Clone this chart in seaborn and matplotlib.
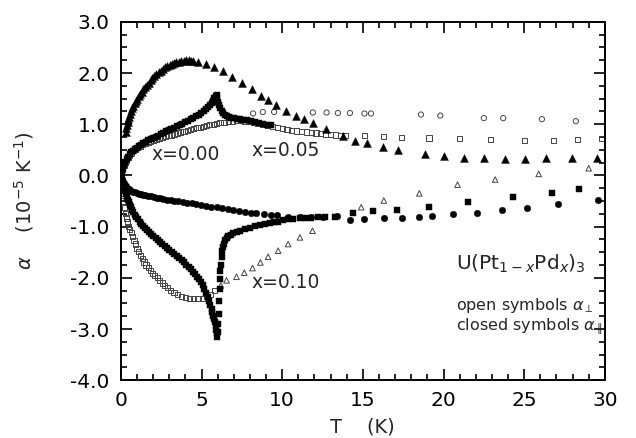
import numpy as np
import pandas as pd
import matplotlib
matplotlib.use("Agg")
import matplotlib.pyplot as plt
from matplotlib.ticker import MultipleLocator, FormatStrFormatter
import seaborn as sns

# ---------------- data ----------------
# closed triangles (upper curve, peak ~2.25 near 4 K)
triA_T = [0.30,0.34,0.38,0.42,0.47,0.52,0.58,0.64,0.71,0.78,0.86,0.94,1.02,1.11,1.20,1.30,1.40,1.50,
          1.61,1.72,1.84,1.96,2.08,2.21,2.34,2.47,2.60,2.74,2.88,3.02,3.16,3.30,3.45,3.60,3.75,3.90,
          4.05,4.20,4.35,4.50,4.80,5.30,5.80,6.34,6.90,7.50,8.16,8.66,9.13,9.61,10.23,10.85,11.35,
          11.88,12.71,13.74,14.50,15.27,16.26,17.20,18.85,20.00,21.30,22.50,23.80,25.05,26.35,27.98,29.50]
triA_a = [0.85,0.92,0.98,1.04,1.10,1.15,1.21,1.26,1.31,1.36,1.41,1.45,1.50,1.55,1.59,1.63,1.68,1.72,
          1.76,1.81,1.86,1.90,1.94,1.98,2.02,2.05,2.08,2.11,2.13,2.15,2.17,2.19,2.21,2.22,2.23,2.24,
          2.25,2.25,2.24,2.24,2.22,2.17,2.12,2.05,1.93,1.80,1.68,1.55,1.47,1.37,1.26,1.17,1.11,
          1.02,0.90,0.78,0.68,0.64,0.55,0.49,0.41,0.38,0.35,0.34,0.33,0.33,0.34,0.34,0.35]

# closed squares, positive branch with sharp peak at ~5.9 K
sqB_T = [0.05,0.12,0.20,0.28,0.36,0.45,0.55,0.65,0.76,0.88,1.00,1.13,1.26,1.40,1.55,1.70,1.85,2.00,
         2.16,2.32,2.48,2.64,2.80,2.97,3.14,3.31,3.48,3.65,3.82,3.99,4.16,4.33,4.50,4.66,4.82,4.98,
         5.13,5.27,5.40,5.52,5.62,5.72,5.80,5.87,5.93,5.98,6.03,6.09,6.16,6.24,6.33,6.43,6.55,6.70,
         6.85,7.00,7.20,7.40,7.60,7.80,8.05,8.30,8.55,8.80,9.05,9.30]
sqB_a = [0.05,0.13,0.20,0.26,0.32,0.37,0.41,0.45,0.48,0.51,0.54,0.57,0.60,0.63,0.66,0.69,0.71,0.73,
         0.76,0.78,0.81,0.83,0.86,0.88,0.91,0.93,0.96,0.99,1.01,1.04,1.07,1.10,1.13,1.16,1.19,1.22,
         1.25,1.29,1.33,1.37,1.41,1.46,1.51,1.55,1.57,1.52,1.44,1.37,1.31,1.26,1.22,1.19,1.16,1.14,
         1.13,1.12,1.11,1.10,1.09,1.08,1.06,1.04,1.02,1.00,0.99,0.98]

# open squares, positive branch rising to ~1.07
opC_T = [0.05,0.12,0.20,0.28,0.36,0.45,0.55,0.66,0.78,0.91,1.05,1.20,1.36,1.52,1.68,1.85,2.02,2.20,
         2.38,2.56,2.75,2.94,3.13,3.32,3.52,3.72,3.92,4.12,4.32,4.52,4.72,4.92,5.12,5.32,5.52,5.72,
         5.92,6.15,6.40,6.65,6.90,7.15,7.40,7.65,7.90,8.20,8.50,8.80,9.10,9.40,9.70,10.00,10.30,
         10.60,10.90,11.20,11.50,11.80,12.10,12.40,12.70,13.00,13.30,13.60,13.90,
         15.1,16.3,17.4,19.1,21.0,22.9,25.0,26.8,28.3,29.8]
opC_a = [0.04,0.12,0.19,0.25,0.30,0.35,0.40,0.44,0.48,0.51,0.54,0.57,0.60,0.62,0.64,0.66,0.68,0.70,
         0.72,0.74,0.76,0.78,0.79,0.81,0.83,0.85,0.86,0.88,0.90,0.91,0.93,0.94,0.96,0.97,0.99,1.00,
         1.02,1.03,1.04,1.05,1.06,1.07,1.07,1.06,1.05,1.03,1.01,0.99,0.97,0.95,0.93,0.91,0.90,
         0.88,0.87,0.86,0.85,0.84,0.83,0.82,0.81,0.80,0.79,0.78,0.78,
         0.78,0.76,0.74,0.73,0.72,0.70,0.68,0.68,0.70,0.72]

# open circles, sparse upper row
opG_T = [8.2,8.8,9.5,11.9,12.75,13.45,14.2,15.1,15.5,18.6,19.8,22.5,23.7,26.1,28.2]
opG_a = [1.21,1.24,1.24,1.23,1.23,1.22,1.22,1.21,1.21,1.19,1.17,1.12,1.12,1.10,1.06]

# closed circles, shallow negative curve
ciD_T = [0.02,0.06,0.10,0.15,0.20,0.26,0.33,0.40,0.48,0.57,0.66,0.76,0.87,0.98,1.10,1.23,1.37,1.52,
         1.68,1.85,2.03,2.22,2.42,2.63,2.85,3.08,3.32,3.57,3.83,4.10,4.38,4.67,4.97,5.28,5.60,5.93,
         6.27,6.62,6.97,7.33,7.70,8.05,8.40,8.90,9.30,9.65,10.37,11.1,11.8,12.5,13.4,14.2,15.1,16.3,
         17.4,18.5,19.3,20.6,22.05,23.6,25.2,27.1,29.6]
ciD_a = [-0.02,-0.06,-0.09,-0.12,-0.15,-0.18,-0.21,-0.24,-0.26,-0.28,-0.30,-0.32,-0.33,-0.35,-0.36,
         -0.37,-0.38,-0.39,-0.40,-0.41,-0.42,-0.44,-0.45,-0.46,-0.47,-0.48,-0.49,-0.50,-0.51,-0.53,
         -0.54,-0.56,-0.57,-0.59,-0.61,-0.62,-0.64,-0.66,-0.68,-0.70,-0.72,-0.73,-0.74,-0.76,-0.77,
         -0.78,-0.82,-0.82,-0.82,-0.82,-0.80,-0.87,-0.85,-0.83,-0.83,-0.82,-0.80,-0.76,-0.73,-0.68,
         -0.64,-0.55,-0.47]

# closed squares, negative branch down to -3.15 at ~6 K, then jump back
sqE_T = [0.28,0.32,0.37,0.42,0.48,0.55,0.62,0.70,0.78,0.87,0.96,1.06,1.16,1.27,1.38,1.50,1.62,1.75,
         1.88,2.01,2.15,2.29,2.43,2.57,2.71,2.86,3.01,3.16,3.31,3.46,3.61,3.76,3.91,4.06,4.20,4.34,
         4.47,4.60,4.72,4.84,4.96,5.07,5.18,5.28,5.38,5.47,5.55,5.62,5.68,5.74,5.79,5.83,5.87,5.91,
         5.94,5.97,
         6.02,6.05,6.08,6.10,6.12,6.14,6.17,6.20,6.24,6.28,6.33,6.40,6.48,6.57,6.67,6.80,6.96,7.17,
         7.38,7.70,8.00,8.30,8.62,8.93,9.24,9.50,9.75,10.05,10.37,10.70,11.10,11.40,11.76,12.20,
         12.65,13.30,14.40,15.60,17.10,19.10,21.50,24.30,26.70,28.40]
sqE_a = [-0.30,-0.36,-0.42,-0.47,-0.52,-0.57,-0.62,-0.67,-0.72,-0.77,-0.81,-0.86,-0.90,-0.94,-0.98,
         -1.02,-1.06,-1.10,-1.14,-1.18,-1.22,-1.26,-1.30,-1.34,-1.38,-1.42,-1.46,-1.50,-1.54,-1.58,
         -1.62,-1.66,-1.70,-1.75,-1.79,-1.83,-1.88,-1.93,-1.98,-2.03,-2.09,-2.15,-2.22,-2.29,-2.37,
         -2.45,-2.53,-2.60,-2.67,-2.74,-2.81,-2.87,-2.94,-3.01,-3.08,-3.15,
         -3.05,-2.90,-2.71,-2.45,-2.22,-2.02,-1.86,-1.74,-1.60,-1.48,-1.40,-1.33,-1.27,-1.23,-1.19,
         -1.16,-1.13,-1.10,-1.08,-1.05,-1.02,-0.99,-0.96,-0.94,-0.93,-0.91,-0.90,-0.88,-0.86,-0.85,
         -0.84,-0.84,-0.83,-0.82,-0.82,-0.81,-0.74,-0.70,-0.67,-0.61,-0.52,-0.43,-0.34,-0.27]

# open squares / triangles, negative branch with minimum ~ -2.4
opF_T = [0.12,0.18,0.24,0.30,0.36,0.42,0.49,0.56,0.64,0.72,0.81,0.90,1.00,1.10,1.21,1.32,1.44,1.56,
         1.69,1.82,1.96,2.10,2.25,2.40,2.56,2.72,2.90,3.10,3.30,3.52,3.75,4.00,4.25,4.50,4.78,5.05,
         5.31,5.58,5.83]
opF_a = [-0.35,-0.50,-0.63,-0.74,-0.83,-0.91,-0.99,-1.06,-1.12,-1.19,-1.27,-1.34,-1.42,-1.49,-1.56,
         -1.62,-1.69,-1.75,-1.80,-1.86,-1.91,-1.95,-2.00,-2.05,-2.10,-2.15,-2.19,-2.24,-2.28,-2.32,
         -2.36,-2.38,-2.40,-2.41,-2.41,-2.40,-2.37,-2.32,-2.25]
opTri_T = [6.20,6.55,7.17,7.65,8.16,8.65,9.13,9.75,10.37,11.10,11.88,14.90,16.30,18.50,20.87,23.20,25.90,29.00]
opTri_a = [-2.15,-2.05,-1.98,-1.90,-1.81,-1.70,-1.59,-1.47,-1.34,-1.21,-1.08,-0.62,-0.49,-0.35,-0.18,-0.08,0.03,0.14]

# text
x_ticks = [0, 5, 10, 15, 20, 25, 30]
y_ticks = [-4, -3, -2, -1, 0, 1, 2, 3]
curve_labels = ["x=0.00", "x=0.05", "x=0.10"]
label_pos_T = [1.9, 8.1, 8.1]
label_pos_a = [0.41, 0.49, -2.09]
legend_lines = [r"U(Pt$_{1-x}$Pd$_{x}$)$_{3}$",
                r"open symbols $\alpha_{\perp}$",
                r"closed symbols $\alpha_{\parallel}$"]

# ---------------- plotting ----------------
sns.set_style("ticks")
plt.rcParams["font.family"] = ["DejaVu Sans"]
plt.rcParams["axes.unicode_minus"] = False

fig = plt.figure(figsize=(6.36, 4.38), dpi=100)
ax = fig.add_axes([0.190, 0.132, 0.761, 0.818])

def closed(T, a, marker, s):
    sns.scatterplot(x=T, y=a, marker=marker, s=s, color="black",
                    edgecolor="black", linewidth=0.3, ax=ax, zorder=3)

def opened(T, a, marker, s, ec="#444444"):
    sns.scatterplot(x=T, y=a, marker=marker, s=s, facecolor="none",
                    edgecolor=ec, linewidth=0.7, ax=ax, zorder=2)

opened(opC_T, opC_a, "s", 14)
opened(opG_T, opG_a, "o", 14)
opened(opF_T, opF_a, "s", 14)
opened(opTri_T, opTri_a, "^", 16)
closed(triA_T, triA_a, "^", 32)
closed(sqB_T, sqB_a, "s", 22)
closed(ciD_T, ciD_a, "o", 22)
closed(sqE_T, sqE_a, "s", 22)

ax.set_xlim(0, 30)
ax.set_ylim(-4, 3)
ax.set_xticks(x_ticks)
ax.set_yticks(y_ticks)
ax.xaxis.set_minor_locator(MultipleLocator(1))
ax.yaxis.set_minor_locator(MultipleLocator(0.25))
ax.yaxis.set_major_formatter(FormatStrFormatter("%.1f"))
ax.tick_params(which="both", direction="in", top=True, right=True, width=1.2, colors="black")
ax.tick_params(which="major", length=8, labelsize=14.5, pad=8)
ax.tick_params(which="minor", length=4)
for sp in ax.spines.values():
    sp.set_visible(True)
    sp.set_linewidth(1.4)
    sp.set_color("black")

ax.set_xlabel("T    (K)", fontsize=14)
ax.set_ylabel(r"$\alpha$    (10$^{-5}$ K$^{-1}$)", fontsize=14)
ax.xaxis.set_label_coords(0.5, -0.105)
ax.yaxis.set_label_coords(-0.175, 0.5)

for lab, t, a in zip(curve_labels, label_pos_T, label_pos_a):
    ax.text(t, a, lab, fontsize=13.5, va="center", ha="left")

ax.text(20.8, -1.73, legend_lines[0], fontsize=14.5, va="center", ha="left")
ax.text(20.8, -2.55, legend_lines[1], fontsize=11.5, va="center", ha="left")
ax.text(20.8, -2.95, legend_lines[2], fontsize=11.5, va="center", ha="left")

fig.savefig("out.png", dpi=100)
